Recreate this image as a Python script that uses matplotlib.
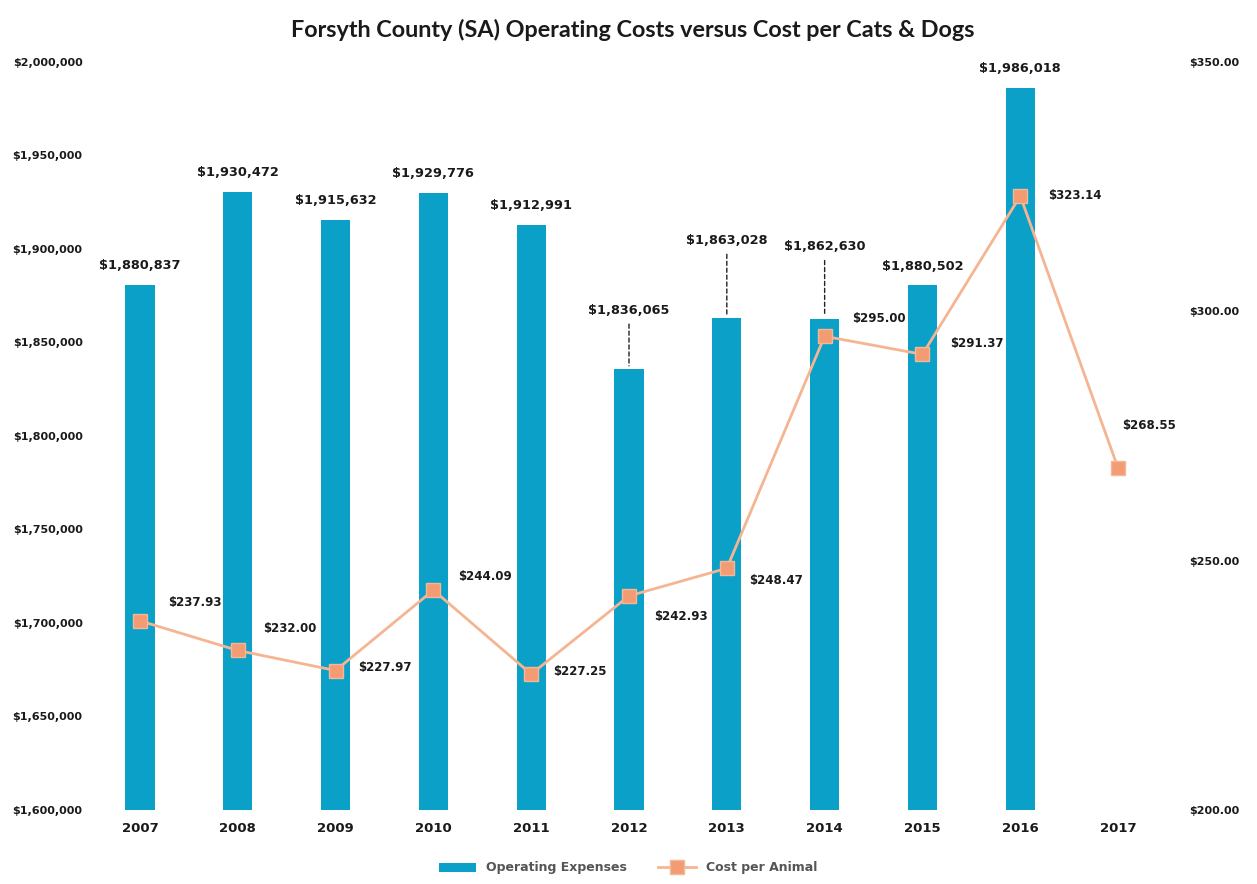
import matplotlib
matplotlib.use("Agg")
import matplotlib.pyplot as plt
from matplotlib.ticker import FuncFormatter
import numpy as np

years = ["2007", "2008", "2009", "2010", "2011", "2012", "2013", "2014", "2015", "2016", "2017"]
opex = [1880837, 1930472, 1915632, 1929776, 1912991, 1836065, 1863028, 1862630, 1880502, 1986018]
cost_per_animal = [237.93, 232.00, 227.97, 244.09, 227.25, 242.93, 248.47, 295.00, 291.37, 323.14, 268.55]

# label offsets in points (dx, dy) for the cost labels
cost_offsets = [(20, 13), (18, 16), (16, 2), (18, 10), (16, 2), (18, -15), (16, -9), (20, 13), (20, 8), (20, 0), (3, 31)]
# bar labels that sit higher with a leader line
lifted = {5: 28, 6: 42, 7: 38}

BAR = "#0aa0c8"
LINE = "#f5b592"
MARK = "#f39c74"
TXT = "#1a1a1a"

fig = plt.figure(figsize=(12.57, 8.84), dpi=100)
ax = fig.add_axes([91 / 1257, 1 - 810 / 884, (1167 - 91) / 1257, (810 - 62) / 884])
ax2 = ax.twinx()

x = np.arange(len(years))
bars = ax.bar(x[:len(opex)], opex, width=0.3, color=BAR, label="Operating Expenses", zorder=1)
ax.set_xlim(-0.5, 10.5)
ax.set_ylim(1600000, 2000000)
ax.set_yticks(np.arange(1600000, 2000001, 50000))
ax.yaxis.set_major_formatter(FuncFormatter(lambda v, p: "${:,.0f}".format(v)))
ax.set_xticks(x)
ax.set_xticklabels(years)

for i, v in enumerate(opex):
    up = lifted.get(i, 0)
    ax.annotate("${:,.0f}".format(v), (i, v), xytext=(0, 14 + up), textcoords="offset points",
                ha="center", va="center", fontsize=9.3, fontweight="bold", color=TXT)
    if up:
        ax.annotate("", (i, v), xytext=(0, 6 + up), textcoords="offset points",
                    arrowprops=dict(arrowstyle="-", color="#222", lw=1, ls=(0, (3, 2))))

ax2.set_ylim(200, 350)
ax2.set_yticks([200, 250, 300, 350])
ax2.yaxis.set_major_formatter(FuncFormatter(lambda v, p: "${:,.2f}".format(v)))
ax2.plot(x, cost_per_animal, color=LINE, lw=2, marker="s", ms=10, mfc=MARK, mec="#f3b898",
         label="Cost per Animal", zorder=3)
for i, v in enumerate(cost_per_animal):
    dx, dy = cost_offsets[i]
    ax2.annotate("${:,.2f}".format(v), (i, v), xytext=(dx, dy), textcoords="offset points",
                 ha="left", va="center", fontsize=8.5, fontweight="bold", color=TXT)

for a in (ax, ax2):
    for s in a.spines.values():
        s.set_visible(False)
    a.tick_params(length=0, labelsize=8, labelcolor=TXT)
    for lab in a.get_yticklabels() + a.get_xticklabels():
        lab.set_fontweight("bold")
ax.tick_params(axis="y", pad=6)
ax.tick_params(axis="x", pad=9, labelsize=9.5)
ax2.tick_params(axis="y", pad=16)

fig.text(633 / 1257, 1 - 30 / 884, "Forsyth County (SA) Operating Costs versus Cost per Cats & Dogs",
         ha="center", va="center", fontsize=16.8, fontweight="bold", family="Lato", color=TXT)

h1, l1 = ax.get_legend_handles_labels()
h2, l2 = ax2.get_legend_handles_labels()
fig.legend(h1 + h2, l1 + l2, loc="center", bbox_to_anchor=(628 / 1257, 1 - 868 / 884), ncol=2,
           frameon=False, prop={"size": 9, "weight": "bold"}, handlelength=3, columnspacing=2.5,
           labelcolor="#555555")

fig.savefig("out.png", dpi=100)
